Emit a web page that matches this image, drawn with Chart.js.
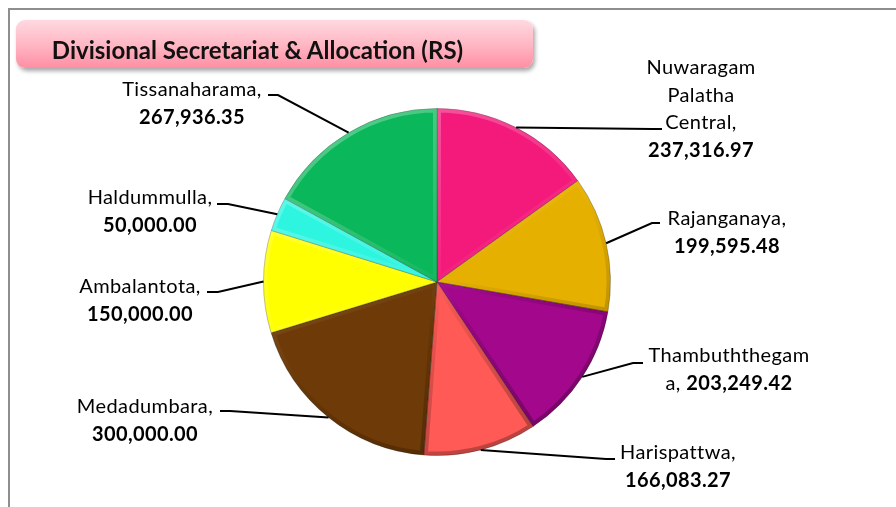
<!DOCTYPE html>
<html>
<head>
<meta charset="utf-8">
<title>Divisional Secretariat & Allocation (RS)</title>
<script src="https://cdn.jsdelivr.net/npm/chart.js@4.4.0/dist/chart.umd.min.js"></script>
<style>
  html, body { margin: 0; padding: 0; background: #fff; }
  #wrap { position: relative; width: 896px; height: 507px; overflow: hidden; }
  #frame {
    position: absolute; left: 8px; top: 8px; width: 1000px; height: 1000px;
    border: 2px solid #8e8e8e; box-sizing: border-box;
  }
  #chart { position: absolute; left: 0; top: 0; }
  #title {
    position: absolute; left: 16px; top: 20px; width: 517px; height: 48px;
    box-sizing: border-box; padding: 11px 34px 0 0;
    border-radius: 9px;
    background: linear-gradient(#ffd9e0, #ffb4c2 55%, #ff8ea3);
    box-shadow: 2px 3px 4px rgba(0, 0, 0, 0.35);
    font: bold 24px Lato, sans-serif; color: #111;
    display: flex; align-items: center; justify-content: center;
  }
</style>
</head>
<body>
<div id="wrap">
  <div id="frame"></div>
  <canvas id="chart" width="896" height="507"></canvas>
  <div id="title">Divisional Secretariat &amp; Allocation (RS)</div>
</div>
<script>
const divisions = [
  "Nuwaragam Palatha Central",
  "Rajanganaya",
  "Thambuththegama",
  "Harispattwa",
  "Medadumbara",
  "Ambalantota",
  "Haldummulla",
  "Tissanaharama",
];
const allocations = [237316.97, 199595.48, 203249.42, 166083.27, 300000.0, 150000.0, 50000.0, 267936.35];
const sliceColors = ["#f31a7b", "#e6b000", "#a3078c", "#ff5a55", "#6e3a07", "#ffff00", "#2ef5e0", "#0bb75b"];

// label placement: text centre x, first line centre y, wrap width, leader elbow and end
const labelLayout = [
  { x: 701, y: 68, w: 125, elbow: [652, 129], end: [662, 129] },
  { x: 727, y: 219, w: 160, elbow: [652, 223], end: [660, 223] },
  { x: 729, y: 356, w: 170, elbow: [633, 363], end: [643, 363] },
  { x: 678, y: 453, w: 160, elbow: [606, 459], end: [615, 459] },
  { x: 145, y: 407, w: 160, elbow: [230, 411], end: [220, 411] },
  { x: 140, y: 287, w: 160, elbow: [218, 292], end: [207, 292] },
  { x: 150, y: 198, w: 160, elbow: [228, 204], end: [217, 204] },
  { x: 192, y: 90, w: 160, elbow: [278, 95], end: [268, 95] },
];

const LINE_H = 27.5;
const FONT = "20px Lato, sans-serif";
const FONT_B = "bold 20px Lato, sans-serif";
const SPACING = "0.4px";

function fmt(v) {
  return v.toLocaleString("en-US", { minimumFractionDigits: 2, maximumFractionDigits: 2 });
}

function measure(ctx, seg) {
  ctx.font = seg.b ? FONT_B : FONT;
  ctx.letterSpacing = SPACING;
  return ctx.measureText(seg.t).width;
}

// greedy wrap like Excel's data labels, breaking inside a word if it is too long
function wrapLabel(ctx, name, value, maxW) {
  const words = name.split(" ").map((t) => ({ t: t, b: false }));
  words[words.length - 1].t += ",";
  words.push({ t: fmt(value), b: true });
  const lines = [];
  let cur = [];
  let curW = 0;
  const space = measure(ctx, { t: " ", b: false });
  for (let i = 0; i < words.length; i++) {
    let wd = words[i];
    let ww = measure(ctx, wd);
    if (cur.length && curW + space + ww > maxW) {
      lines.push(cur);
      cur = [];
      curW = 0;
    }
    while (!cur.length && ww > maxW) {
      let n = wd.t.length;
      while (n > 1 && measure(ctx, { t: wd.t.slice(0, n), b: wd.b }) > maxW) n--;
      lines.push([{ t: wd.t.slice(0, n), b: wd.b }]);
      wd = { t: wd.t.slice(n), b: wd.b };
      ww = measure(ctx, wd);
    }
    if (cur.length) {
      cur.push({ t: " ", b: false });
      curW += space;
    }
    cur.push(wd);
    curW += ww;
  }
  if (cur.length) lines.push(cur);
  return lines;
}

const bevelPlugin = {
  id: "bevel",
  afterDatasetsDraw(chart) {
    const ctx = chart.ctx;
    const arcs = chart.getDatasetMeta(0).data;
    arcs.forEach((arc) => {
      const p = arc.getProps(["x", "y", "startAngle", "endAngle", "outerRadius"], true);
      ctx.save();
      ctx.beginPath();
      ctx.moveTo(p.x, p.y);
      ctx.arc(p.x, p.y, p.outerRadius, p.startAngle, p.endAngle);
      ctx.closePath();
      ctx.clip();
      const g = ctx.createLinearGradient(p.x - p.outerRadius * 0.5, p.y - p.outerRadius, p.x + p.outerRadius * 0.5, p.y + p.outerRadius);
      g.addColorStop(0, "rgba(255,255,255,0.3)");
      g.addColorStop(0.45, "rgba(255,255,255,0.05)");
      g.addColorStop(0.6, "rgba(0,0,0,0.07)");
      g.addColorStop(1, "rgba(0,0,0,0.3)");
      ctx.strokeStyle = g;
      ctx.lineWidth = 8;
      ctx.lineJoin = "round";
      ctx.stroke();
      ctx.restore();
    });
  },
};

const labelPlugin = {
  id: "sliceLabels",
  afterDraw(chart) {
    const ctx = chart.ctx;
    const arcs = chart.getDatasetMeta(0).data;
    arcs.forEach((arc, i) => {
      const p = arc.getProps(["x", "y", "startAngle", "endAngle", "outerRadius"], true);
      const mid = (p.startAngle + p.endAngle) / 2;
      const ax = p.x + Math.cos(mid) * p.outerRadius;
      const ay = p.y + Math.sin(mid) * p.outerRadius;
      const lay = labelLayout[i];

      ctx.save();
      ctx.strokeStyle = "#000";
      ctx.lineWidth = 2;
      ctx.beginPath();
      ctx.moveTo(ax, ay);
      ctx.lineTo(lay.elbow[0], lay.elbow[1]);
      ctx.lineTo(lay.end[0], lay.end[1]);
      ctx.stroke();

      const lines = wrapLabel(ctx, divisions[i], allocations[i], lay.w);
      ctx.fillStyle = "#000";
      ctx.textBaseline = "middle";
      ctx.textAlign = "left";
      lines.forEach((segs, li) => {
        const total = segs.reduce((s, sg) => s + measure(ctx, sg), 0);
        let x = lay.x - total / 2;
        const y = lay.y + li * LINE_H;
        segs.forEach((sg) => {
          const w = measure(ctx, sg);
          ctx.fillText(sg.t, x, y);
          x += w;
        });
      });
      ctx.restore();
    });
  },
};

new Chart(document.getElementById("chart"), {
  type: "pie",
  data: {
    labels: divisions,
    datasets: [
      {
        data: allocations,
        backgroundColor: sliceColors,
        borderColor: "rgba(0,0,0,0.25)",
        borderWidth: 1,
      },
    ],
  },
  options: {
    responsive: false,
    animation: false,
    events: [],
    layout: {
      padding: { left: 263, right: 285, top: 108, bottom: 51 },
    },
    plugins: {
      legend: { display: false },
      tooltip: { enabled: false },
      title: { display: false },
    },
  },
  plugins: [bevelPlugin, labelPlugin],
});
</script>
</body>
</html>
